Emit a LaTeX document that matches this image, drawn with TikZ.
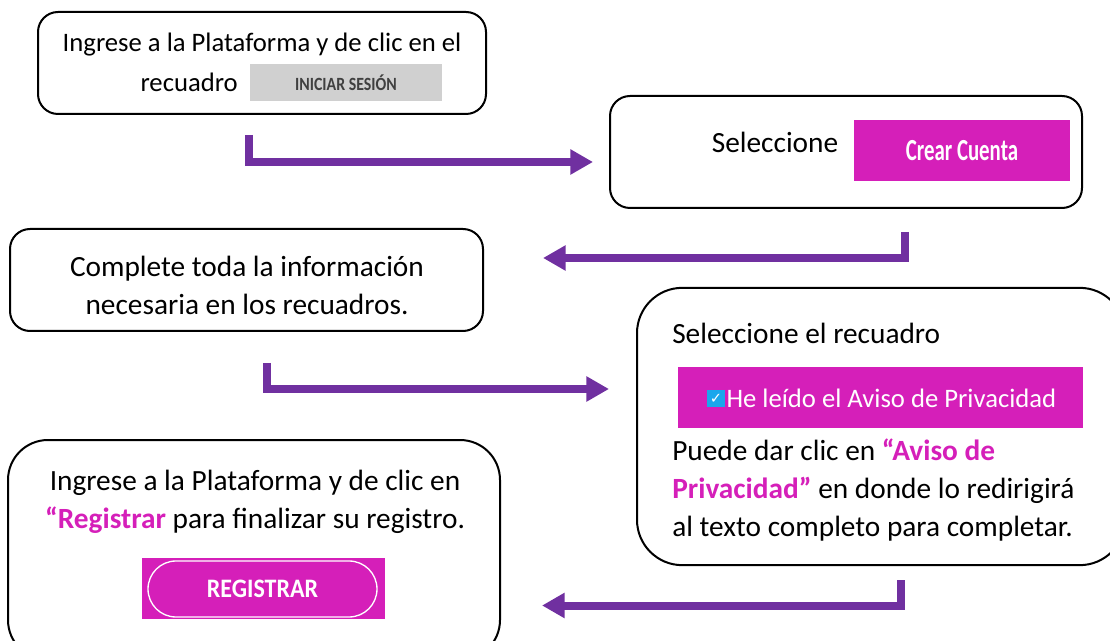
\documentclass[tikz,border=0pt]{standalone}
\usepackage{fontspec}
\usepackage{graphicx}
\setmainfont{Carlito}
\newfontfamily\symfont{DejaVu Sans}
\usetikzlibrary{arrows.meta}

\definecolor{flowpurple}{HTML}{7030A0}
\definecolor{btnmagenta}{HTML}{D51FB9}
\definecolor{btngray}{HTML}{D0D0D0}
\definecolor{chkblue}{HTML}{1AA7EC}

\tikzset{
  stepbox/.style={draw, line width=1.5pt, rounded corners=15pt, inner sep=0pt},
  flow/.style={draw=flowpurple, line width=6pt,
    -{Triangle[length=17pt,width=18pt]}},
  txt/.style={inner sep=0pt, font=\fontsize{22}{28.5}\selectfont},
  btn/.style={inner sep=0pt, fill=btnmagenta, text=white}
}

\begin{document}
\begin{tikzpicture}[x=0.75pt, y=-0.75pt]
  \useasboundingbox (0,0) rectangle (1110,641);
  \clip (0,0) rectangle (1110,641);

  % cajas
  \node[stepbox, minimum width=336pt, minimum height=76.5pt] (login) at (262,63) {};
  \node[stepbox, minimum width=354pt, minimum height=84pt] (crear) at (846,152) {};
  \node[stepbox, minimum width=354.75pt, minimum height=76.5pt] (datos) at (246.5,280) {};
  \node[stepbox, rounded corners=34pt, minimum width=366pt, minimum height=208pt] (aviso) at (881,426.5) {};
  \node[stepbox, rounded corners=30pt, minimum width=369pt, minimum height=165pt] (registro) at (254,550) {};

  % textos de la primera caja
  \node[txt, font=\fontsize{20}{27.75}\selectfont] (login1) at (262,45) {Ingrese a la Plataforma y de clic en el};
  \node[txt, font=\fontsize{20}{27.75}\selectfont, anchor=east] (login2) at (238,82) {recuadro};
  \node[inner sep=0pt, fill=btngray, minimum width=144pt, minimum height=27.75pt,
        font=\fontsize{14}{14}\bfseries\selectfont, text=black!75] (iniciar) at (346,82.5)
        {\scalebox{0.85}[1]{INICIAR SESIÓN}};

  % segunda caja
  \node[txt] (sel) at (775,142) {Seleccione};
  \node[btn, minimum width=162pt, minimum height=45.75pt,
        font=\fontsize{23}{23}\bfseries\selectfont] (cuenta) at (962,150.5)
        {\scalebox{0.68}[1]{Crear Cuenta}};

  % tercera caja
  \node[txt, align=center] (info) at (247,285)
        {Complete toda la información\\necesaria en los recuadros.};

  % cuarta caja
  \node[txt, anchor=west] (sel2) at (672,333) {Seleccione el recuadro};
  \node[btn, minimum width=303.75pt, minimum height=45.75pt] (banda) at (880.5,397.5) {};
  \node[fill=chkblue, text=white, inner sep=0pt, minimum size=13pt,
        font=\symfont\fontsize{11}{11}\selectfont] (chk) at (716,398.5) {✓};
  \node[inner sep=0pt, anchor=west, text=white, font=\fontsize{20}{20}\selectfont]
        (leido) at ([xshift=1pt]chk.east) {He leído el Aviso de Privacidad};
  \node[txt, anchor=west, align=left] (puede) at (672,490)
        {Puede dar clic en \textcolor{btnmagenta}{\bfseries “Aviso de}\\
         \textcolor{btnmagenta}{\bfseries Privacidad”} en donde lo redirigirá\\
         al texto completo para completar.};

  % quinta caja
  \node[txt, align=center] (fin) at (255,502)
        {Ingrese a la Plataforma y de clic en\\
         \textcolor{btnmagenta}{\bfseries “Registrar} para finalizar su registro.};
  \node[btn, minimum width=182.25pt, minimum height=45.75pt] (registrar) at (263.5,588.5) {};
  \node[draw=white, line width=1pt, rounded corners=21pt, minimum width=171.75pt,
        minimum height=42pt, inner sep=0pt, text=white,
        font=\fontsize{20}{20}\bfseries\selectfont] (pill) at (262.5,589)
        {\scalebox{0.9}[1]{REGISTRAR}};

  % flechas
  \coordinate (f1a) at (249,135);
  \coordinate (f1b) at (593,162);
  \coordinate (f2a) at (905,232);
  \coordinate (f2b) at (543,258);
  \coordinate (f3a) at (267,363);
  \coordinate (f3b) at (609,389);
  \coordinate (f4a) at (901,580);
  \coordinate (f4b) at (542,605.5);

  \draw[flow] (f1a) |- (f1b);
  \draw[flow] (f2a) |- (f2b);
  \draw[flow] (f3a) |- (f3b);
  \draw[flow] (f4a) |- (f4b);

\end{tikzpicture}
\end{document}
